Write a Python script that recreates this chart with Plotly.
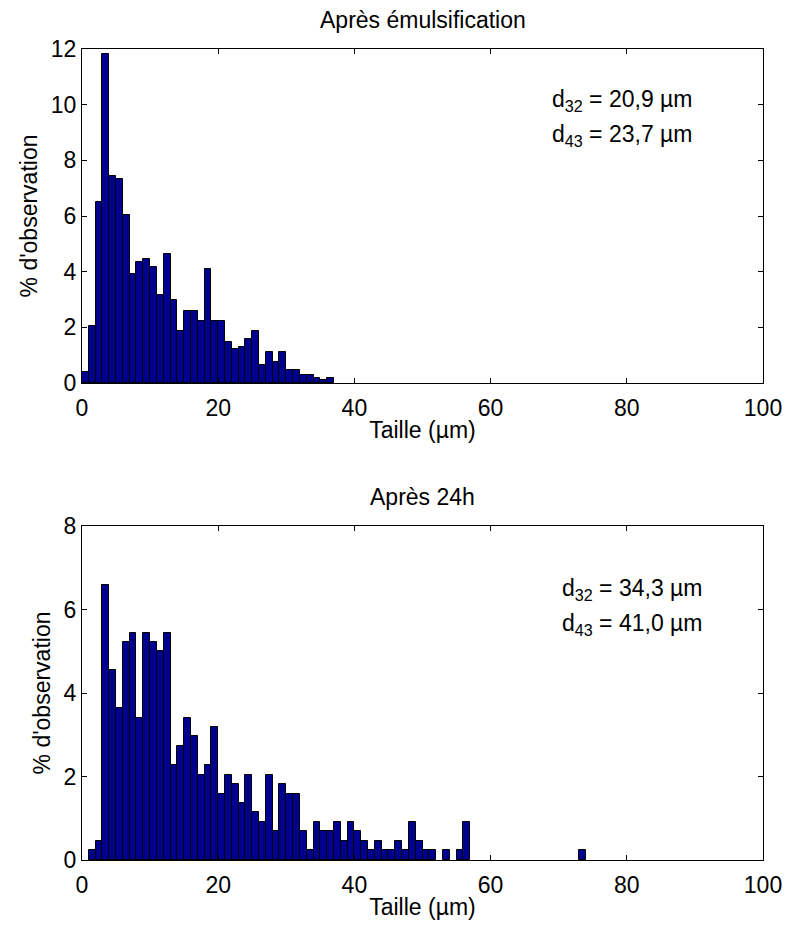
# Histogrammes de taille des gouttes : après émulsification et après 24h

import plotly.graph_objects as go
from plotly.subplots import make_subplots

# classes de taille (µm), borne gauche de chaque classe de 1 µm
taille_emul = [0, 1, 2, 3, 4, 5, 6, 7, 8, 9, 10, 11, 12, 13, 14, 15, 16, 17, 18,
               19, 20, 21, 22, 23, 24, 25, 26, 27, 28, 29, 30, 31, 32, 33, 34, 35, 36]
obs_emul = [0.38, 2.05, 6.50, 11.81, 7.44, 7.34, 6.05, 3.90, 4.36, 4.47, 4.18, 3.16,
            4.63, 2.97, 1.86, 2.60, 2.60, 2.24, 4.10, 2.24, 2.24, 1.49, 1.21, 1.31,
            1.58, 1.86, 0.66, 1.11, 0.74, 1.11, 0.46, 0.46, 0.29, 0.29, 0.19, 0.10, 0.19]

taille_24h = [1, 2, 3, 4, 5, 6, 7, 8, 9, 10, 11, 12, 13, 14, 15, 16, 17, 18, 19, 20,
              21, 22, 23, 24, 25, 26, 27, 28, 29, 30, 31, 32, 33, 34, 35, 36, 37, 38,
              39, 40, 41, 42, 43, 44, 45, 46, 47, 48, 49, 50, 51, 53, 55, 56, 73]
obs_24h = [0.23, 0.46, 6.58, 4.55, 3.64, 5.22, 5.43, 3.41, 5.43, 5.22, 5.00, 5.43,
           2.28, 2.73, 3.41, 2.96, 2.04, 2.28, 3.19, 1.59, 2.04, 1.82, 1.37, 2.04,
           1.14, 0.92, 2.04, 0.69, 1.82, 1.59, 1.59, 0.69, 0.23, 0.92, 0.69, 0.69,
           0.92, 0.46, 0.92, 0.69, 0.46, 0.23, 0.46, 0.23, 0.23, 0.46, 0.23, 0.91,
           0.46, 0.23, 0.23, 0.23, 0.23, 0.91, 0.23]

titres = ["Après émulsification", "Après 24h"]
diametres = [("20,9", "23,7"), ("34,3", "41,0")]
yticks_haut = [0, 2, 4, 6, 8, 10, 12]
yticks_bas = [0, 2, 4, 6, 8]
xticks = [0, 20, 40, 60, 80, 100]

W, H = 788, 928
FONT = "Liberation Sans, Arial, sans-serif"
BLEU = "rgb(0,0,143)"

fig = make_subplots(rows=2, cols=1)

for row, (x, y) in enumerate([(taille_emul, obs_emul), (taille_24h, obs_24h)], start=1):
    fig.add_trace(go.Bar(
        x=[v + 0.5 for v in x], y=y, width=1,
        marker=dict(color=BLEU, line=dict(color="black", width=1)),
        showlegend=False, hoverinfo="x+y"
    ), row=row, col=1)

# positions en pixels des axes dans la fenêtre
x0, x1 = 82, 763
panels = [(49, 383, 12, yticks_haut), (526, 860, 8, yticks_bas)]

axis_common = dict(showline=True, linecolor="black", linewidth=1, mirror="ticks",
                   ticks="inside", ticklen=5, tickcolor="black", showgrid=False,
                   zeroline=False, automargin=False, ticklabeloverflow="allow",
                   tickfont=dict(size=23, color="black"))

for i, (top, bot, ymax, yt) in enumerate(panels, start=1):
    fig.update_xaxes(domain=[x0 / W, x1 / W], range=[0, 100], tickvals=xticks,
                     title=dict(text="Taille (µm)", font=dict(size=23), standoff=2),
                     ticklabelstandoff=4, row=i, col=1, **axis_common)
    fig.update_yaxes(domain=[1 - bot / H, 1 - top / H], range=[0, ymax], tickvals=yt,
                     title=dict(text="% d'observation", font=dict(size=23), standoff=6),
                     row=i, col=1, **axis_common)

    fig.add_annotation(text=titres[i - 1], xref="paper", yref="paper",
                       x=(x0 + x1) / 2 / W, y=1 - (top - 29) / H,
                       showarrow=False, font=dict(size=23), yanchor="middle")

    d32, d43 = diametres[i - 1]
    ax = "x domain" if i == 1 else "x2 domain"
    ay = "y domain" if i == 1 else "y2 domain"
    xl = 0.687 if i == 1 else 0.702
    ys = (0.845, 0.74) if i == 1 else (0.81, 0.705)
    fig.add_annotation(text=f"d<sub>32</sub> = {d32} µm", xref=ax, yref=ay,
                       x=xl, y=ys[0], xanchor="left", yanchor="middle",
                       showarrow=False, font=dict(size=23))
    fig.add_annotation(text=f"d<sub>43</sub> = {d43} µm", xref=ax, yref=ay,
                       x=xl, y=ys[1], xanchor="left", yanchor="middle",
                       showarrow=False, font=dict(size=23))

fig.update_layout(
    width=W, height=H,
    margin=dict(l=0, r=0, t=0, b=0),
    paper_bgcolor="white", plot_bgcolor="white",
    font=dict(family=FONT, color="black", size=23),
    bargap=0,
)

# pas de marge de page autour de la figure, pas de barre d'outils
fig.write_html("out.html", config={"displayModeBar": False}, post_script=(
    "document.body.style.margin='0';"
    "document.documentElement.style.overflow='hidden';"
))
